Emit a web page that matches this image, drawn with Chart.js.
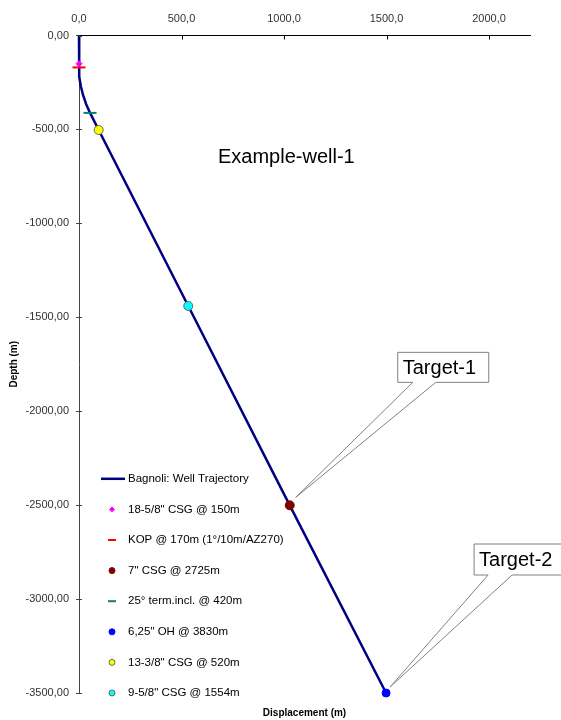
<!DOCTYPE html>
<html>
<head>
<meta charset="utf-8">
<script src="https://cdn.jsdelivr.net/npm/chart.js"></script>
<style>
    html, body { margin: 0; padding: 0; background: #fff; }
    canvas { display: block; }
</style>
</head>
<body>
<canvas id="wellChart" width="561" height="720"></canvas>
<script>
// 궤적 데이터: 수평변위(m) / 심도(m)
const trajDisplacement = [0, 0, 2, 9, 20, 35, 54, 96, 533, 1028, 1498];
const trajDepth = [0, -170, -220, -270, -318, -366, -412, -503, -1440, -2501, -3500];

// 마커 데이터
const markerLabels = [
    '18-5/8" CSG @ 150m',
    'KOP @ 170m (1°/10m/AZ270)',
    '7" CSG @ 2725m',
    '25° term.incl. @ 420m',
    '6,25" OH @ 3830m',
    '13-3/8" CSG @ 520m',
    '9-5/8" CSG @ 1554m'
];
const markerDisplacement = [0, 0, 1028, 54, 1498, 96, 533];
const markerDepth = [-150, -170, -2501, -412, -3500, -503, -1440];

// 눈금
const xTicks = [0, 500, 1000, 1500, 2000];
const yTicks = [0, -500, -1000, -1500, -2000, -2500, -3000, -3500];

// 타겟 라벨 (마커 인덱스)
const targetLabels = ['Target-1', 'Target-2'];
const targetMarker = [2, 4];

const chartTitle = 'Example-well-1';
const trajLabel = 'Bagnoli: Well Trajectory';

// 스타일
const markerStyles = [
    { pointStyle: 'rectRot', radius: 3, legendRadius: 2.5, bg: '#ff00ff', border: '#ff00ff', borderWidth: 1 },
    { pointStyle: 'line', radius: 6.5, legendRadius: 4, bg: '#ff0000', border: '#ff0000', borderWidth: 2 },
    { pointStyle: 'circle', radius: 4.5, legendRadius: 3, bg: '#800000', border: '#800000', borderWidth: 1 },
    { pointStyle: 'line', radius: 6.5, legendRadius: 4, bg: '#008080', border: '#008080', borderWidth: 2 },
    { pointStyle: 'circle', radius: 4, legendRadius: 3, bg: '#0000ff', border: '#0000ff', borderWidth: 1 },
    { pointStyle: 'circle', radius: 4.5, legendRadius: 3, bg: '#ffff00', border: '#666666', borderWidth: 1 },
    { pointStyle: 'circle', radius: 4.5, legendRadius: 3, bg: '#00ffff', border: '#666666', borderWidth: 1 }
];
const calloutStyles = [
    { tip: [6, -8], left: 108, right: 199, top: -153, bottom: -123, base: [123, 146] },
    { tip: [4, -6], left: 88, right: 190, top: -149, bottom: -118, base: [102, 126] }
];

const FONT = "'Liberation Sans', Arial, sans-serif";
Chart.defaults.font.family = FONT;

const datasets = [{
    label: trajLabel,
    data: trajDisplacement.map((x, i) => ({ x: x, y: trajDepth[i] })),
    showLine: true,
    borderColor: '#000080',
    borderWidth: 2.5,
    pointRadius: 0,
    tension: 0,
    clip: false,
    order: 1
}];
markerLabels.forEach((label, i) => {
    const s = markerStyles[i];
    datasets.push({
        label: label,
        data: [{ x: markerDisplacement[i], y: markerDepth[i] }],
        pointStyle: s.pointStyle,
        pointRadius: s.radius,
        backgroundColor: s.bg,
        borderColor: s.border,
        pointBorderWidth: s.borderWidth,
        showLine: false,
        clip: false,
        order: 0
    });
});

// 안쪽 눈금 표시
const innerTicks = {
    id: 'innerTicks',
    afterDraw(chart) {
        const { ctx, chartArea: a, scales } = chart;
        ctx.save();
        ctx.lineWidth = 1;
        ctx.strokeStyle = '#000';
        xTicks.forEach(v => {
            const px = Math.round(scales.x.getPixelForValue(v)) + 0.5;
            ctx.beginPath();
            ctx.moveTo(px, a.top);
            ctx.lineTo(px, a.top + 4);
            ctx.stroke();
        });
        ctx.strokeStyle = '#444';
        yTicks.forEach(v => {
            const py = Math.round(scales.y.getPixelForValue(v)) + 0.5;
            ctx.beginPath();
            ctx.moveTo(a.left, py);
            ctx.lineTo(a.left + 3, py);
            ctx.stroke();
        });
        ctx.restore();
    }
};

// 차트 제목 + 범례 + 타겟 말풍선
const overlay = {
    id: 'overlay',
    afterDraw(chart) {
        const { ctx, chartArea: a, scales } = chart;
        ctx.save();

        ctx.fillStyle = '#000';
        ctx.font = '20px ' + FONT;
        ctx.textAlign = 'left';
        ctx.textBaseline = 'middle';
        ctx.fillText(chartTitle, a.left + 139, a.top + 122);

        // 범례
        const step = 30.6;
        const y0 = a.bottom - step * (datasets.length - 1);
        ctx.font = '11.5px ' + FONT;
        datasets.forEach((ds, i) => {
            const y = y0 + i * step;
            if (i === 0) {
                ctx.strokeStyle = ds.borderColor;
                ctx.lineWidth = 2.5;
                ctx.beginPath();
                ctx.moveTo(a.left + 22, y);
                ctx.lineTo(a.left + 46, y);
                ctx.stroke();
            } else {
                const s = markerStyles[i - 1];
                ctx.fillStyle = s.bg;
                ctx.strokeStyle = s.border;
                ctx.lineWidth = s.borderWidth;
                Chart.helpers.drawPoint(ctx, { pointStyle: s.pointStyle, radius: s.legendRadius, borderWidth: s.borderWidth, rotation: 0 }, a.left + 33, y);
            }
            ctx.fillStyle = '#000';
            ctx.fillText(ds.label, a.left + 49, y);
        });

        // 타겟 말풍선
        targetLabels.forEach((text, i) => {
            const m = targetMarker[i];
            const c = calloutStyles[i];
            const mx = scales.x.getPixelForValue(markerDisplacement[m]);
            const my = scales.y.getPixelForValue(markerDepth[m]);
            const L = mx + c.left, R = mx + c.right, T = my + c.top, B = my + c.bottom;
            ctx.beginPath();
            ctx.moveTo(L, T);
            ctx.lineTo(R, T);
            ctx.lineTo(R, B);
            ctx.lineTo(mx + c.base[1], B);
            ctx.lineTo(mx + c.tip[0], my + c.tip[1]);
            ctx.lineTo(mx + c.base[0], B);
            ctx.lineTo(L, B);
            ctx.closePath();
            ctx.fillStyle = '#fff';
            ctx.fill();
            ctx.strokeStyle = '#808080';
            ctx.lineWidth = 1;
            ctx.stroke();
            ctx.fillStyle = '#000';
            ctx.font = '20px ' + FONT;
            ctx.fillText(text, L + 5, (T + B) / 2 + 1);
        });

        ctx.restore();
    }
};

new Chart(document.getElementById('wellChart'), {
    type: 'scatter',
    data: { datasets: datasets },
    options: {
        responsive: false,
        animation: false,
        layout: { padding: { left: 0, right: 31, top: 0, bottom: 0 } },
        plugins: { legend: { display: false }, tooltip: { enabled: false } },
        scales: {
            x: {
                type: 'linear',
                position: 'top',
                min: 0,
                max: 2200,
                afterBuildTicks: scale => { scale.ticks = xTicks.map(v => ({ value: v })); },
                afterFit: scale => { scale.height = 35.5; },
                grid: { display: true, drawOnChartArea: false, drawTicks: false },
                border: { display: true, color: '#000', width: 1 },
                ticks: {
                    padding: 10,
                    color: '#333',
                    font: { size: 11 },
                    maxRotation: 0,
                    callback: v => v.toFixed(1).replace('.', ',')
                }
            },
            x2: {
                type: 'linear',
                position: 'bottom',
                afterFit: scale => { scale.height = 27; },
                grid: { display: false },
                border: { display: false },
                ticks: { display: false },
                title: {
                    display: true,
                    text: 'Displacement (m)',
                    color: '#000',
                    font: { size: 10, weight: 'bold' },
                    padding: { top: 0, bottom: 1 }
                }
            },
            y: {
                type: 'linear',
                position: 'left',
                min: -3500,
                max: 0,
                afterBuildTicks: scale => { scale.ticks = yTicks.map(v => ({ value: v })); },
                afterFit: scale => { scale.width = 79; },
                grid: { display: true, drawOnChartArea: false, drawTicks: true, tickLength: 3, color: '#444' },
                border: { display: true, color: '#444', width: 1 },
                ticks: {
                    padding: 7,
                    color: '#333',
                    font: { size: 11 },
                    callback: v => v.toFixed(2).replace('.', ',')
                },
                title: {
                    display: true,
                    text: 'Depth (m)',
                    color: '#000',
                    font: { size: 10, weight: 'bold' },
                    padding: { top: 8, bottom: 0 }
                }
            }
        }
    },
    plugins: [innerTicks, overlay]
});
</script>
</body>
</html>
